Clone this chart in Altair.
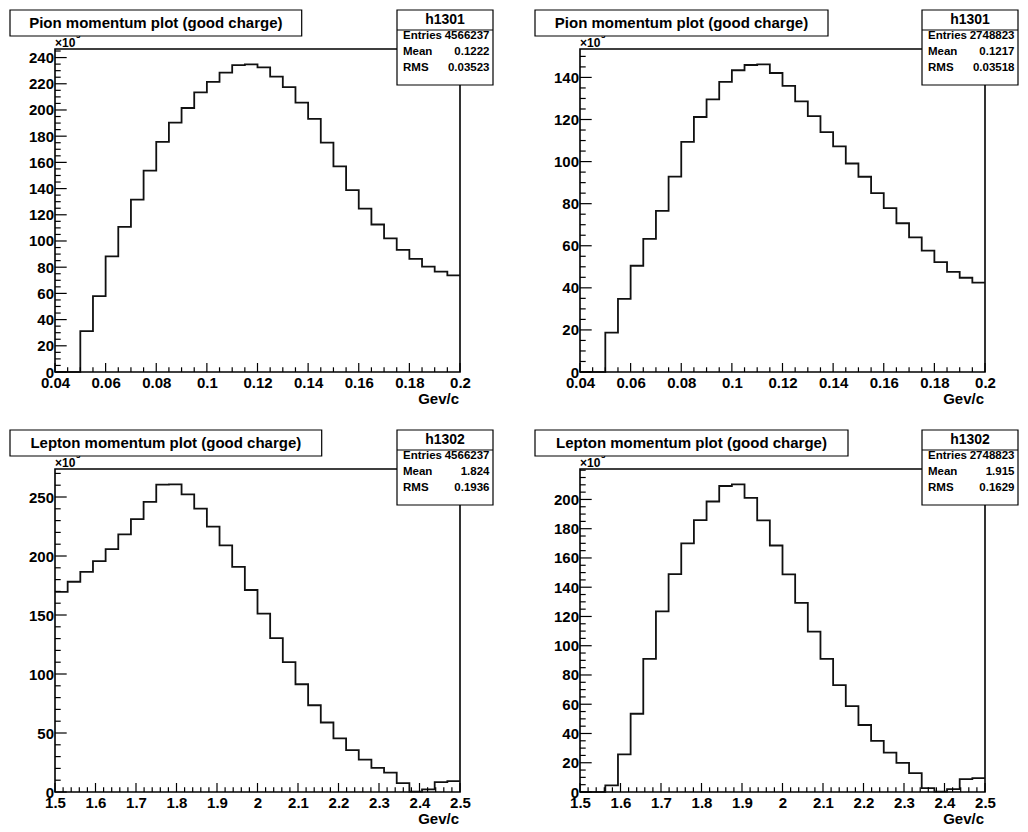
import altair as alt
import pandas as pd

# ---------------- data (values in units of 10^3 entries per bin) ----------------
pion_lo = 0.04
pion_bin = 0.005
pion_all = [0, 0, 31.2, 57.9, 88.2, 110.8, 131.5, 153.7, 175.6, 190.4,
            201.5, 213.4, 221.5, 228.5, 234.3, 234.8, 232.5, 225.5, 217.4, 205.6,
            193.2, 175.1, 156.9, 138.8, 124.7, 112.6, 102.0, 93.2, 86.4, 80.4,
            76.6, 73.8]
pion_sel = [0, 0, 18.7, 34.8, 50.5, 63.3, 76.6, 92.9, 109.4, 121.2,
            129.6, 137.9, 143.4, 145.9, 146.2, 142.1, 136.0, 128.6, 121.6, 114.0,
            107.2, 99.1, 92.8, 85.0, 77.9, 70.7, 64.0, 57.7, 52.2, 47.6,
            44.8, 42.5]

lep_lo = 1.5
lep_bin = 1.0 / 32
lep_all = [169.6, 178.2, 186.6, 195.7, 205.8, 218.4, 231.3, 245.8, 260.5, 260.7,
           252.2, 240.2, 224.9, 209.0, 190.8, 171.2, 151.1, 130.4, 110.1, 91.3,
           73.5, 58.9, 45.5, 35.5, 27.4, 20.4, 16.5, 7.5, 0.4, 2.2,
           8.4, 9.3]
lep_sel = [0, 0, 4.5, 25.7, 53.5, 91.0, 123.5, 149.0, 170.0, 185.9,
           198.6, 209.2, 210.3, 201.1, 185.7, 168.5, 148.8, 129.3, 109.7, 91.0,
           73.1, 58.7, 45.8, 35.0, 26.9, 19.9, 12.9, 2.7, 0.3, 2.0,
           8.8, 9.5]

titles = ["Pion momentum plot (good charge)", "Pion momentum plot (good charge)",
          "Lepton momentum plot (good charge)", "Lepton momentum plot (good charge)"]
hist_names = ["h1301", "h1301", "h1302", "h1302"]
entries = ["4566237", "2748823", "4566237", "2748823"]
means = ["0.1222", "0.1217", "1.824", "1.915"]
rmss = ["0.03523", "0.03518", "0.1936", "0.1629"]
x_title = "Gev/c"
exp_label = "\u00d710"
exp_power = "3"

pion_x_major = [0.04, 0.06, 0.08, 0.1, 0.12, 0.14, 0.16, 0.18, 0.2]
lep_x_major = [1.5, 1.6, 1.7, 1.8, 1.9, 2.0, 2.1, 2.2, 2.3, 2.4, 2.5]
y_major_tl = [0, 20, 40, 60, 80, 100, 120, 140, 160, 180, 200, 220, 240]
y_major_tr = [0, 20, 40, 60, 80, 100, 120, 140]
y_major_bl = [0, 50, 100, 150, 200, 250]
y_major_br = [0, 20, 40, 60, 80, 100, 120, 140, 160, 180, 200]

# ---------------- style / layout ----------------
FONT = "Liberation Sans"
W = 405
H = 323
XMAJ_LEN, XMIN_LEN = 9, 4.7
YMAJ_LEN, YMIN_LEN = 11.7, 5.7
dummy = pd.DataFrame({"d": [0]})


def minor_ticks(start, stop, step, majors):
    out = []
    k = 0
    while True:
        v = round(start + k * step, 6)
        if v > stop + 1e-9:
            break
        if all(abs(v - m) > 1e-9 for m in majors):
            out.append(v)
        k += 1
    return out


def text(t, x, y, size, align="left", baseline="middle"):
    return alt.Chart(dummy).mark_text(
        text=t, font=FONT, fontWeight="bold", fontSize=size, color="black",
        align=align, baseline=baseline
    ).encode(x=alt.value(x), y=alt.value(y))


def box(x1, x2, y1, y2):
    return alt.Chart(dummy).mark_rect(
        fill="white", stroke="black", strokeWidth=1.2
    ).encode(x=alt.value(x1), x2=alt.value(x2), y=alt.value(y1), y2=alt.value(y2))


def panel(lo, bw, vals, xmaj, xstep, ymaj, ystep, title, title_w, hname, ent, mean, rms):
    n = len(vals)
    hi = round(lo + n * bw, 6)
    edges = [lo + i * bw for i in range(n)] + [hi]
    hist_df = pd.DataFrame({"x": edges, "y": list(vals) + [vals[-1]]})
    ymax = max(vals) * 1.05
    xs = alt.Scale(domain=[lo, hi], nice=False, zero=False)
    ys = alt.Scale(domain=[0, ymax], nice=False, zero=False)
    xax = alt.Axis(values=xmaj, format="~g", title=None)
    yax = alt.Axis(values=ymaj, format="d", title=None)

    xmin_t = minor_ticks(lo, hi, xstep, xmaj)
    ymin_t = minor_ticks(0, ymax, ystep, ymaj)

    def xticks(vals_, ln):
        return alt.Chart(pd.DataFrame({"v": vals_})).mark_rule(
            color="black", strokeWidth=1.2
        ).encode(x=alt.X("v:Q", scale=xs, axis=xax),
                 y=alt.value(H), y2=alt.value(H - ln))

    def yticks(vals_, ln):
        return alt.Chart(pd.DataFrame({"v": vals_})).mark_rule(
            color="black", strokeWidth=1.2
        ).encode(y=alt.Y("v:Q", scale=ys, axis=yax),
                 x=alt.value(0), x2=alt.value(ln))

    hist = alt.Chart(hist_df).mark_line(
        interpolate="step-after", color="#111111", strokeWidth=1.8
    ).encode(
        x=alt.X("x:Q", scale=xs, axis=xax),
        y=alt.Y("y:Q", scale=ys, axis=yax),
    )

    sx1, sx2 = 342, 438
    layers = [
        hist,
        xticks(xmaj, XMAJ_LEN), xticks(xmin_t, XMIN_LEN),
        yticks(ymaj, YMAJ_LEN), yticks(ymin_t, YMIN_LEN),
        box(sx1, sx2, -39, 36),
        alt.Chart(dummy).mark_rule(color="black", strokeWidth=1.2).encode(
            x=alt.value(sx1), x2=alt.value(sx2), y=alt.value(-19)),
        text(hname, (sx1 + sx2) / 2, -29, 14, "center"),
        text("Entries", sx1 + 6, -13, 11.5),
        text(ent, sx2 - 3.5, -13, 11.5, "right"),
        text("Mean", sx1 + 6, 2.5, 11.5),
        text(mean, sx2 - 3.5, 2.5, 11.5, "right"),
        text("RMS", sx1 + 6, 18.5, 11.5),
        text(rms, sx2 - 3.5, 18.5, 11.5, "right"),
        text(exp_label, 0, -2, 12, "left", "alphabetic"),
        text(exp_power, 21, -11, 8, "left", "alphabetic"),
        box(-45, -45 + title_w, -39, -13),
        text(title, -45 + title_w / 2, -26, 15, "center"),
        text(x_title, W - 1, H + 27, 15, "right"),
    ]
    return alt.layer(*layers).properties(width=W, height=H)


tl = panel(pion_lo, pion_bin, pion_all, pion_x_major, 0.005, y_major_tl, 5,
           titles[0], 291.7, hist_names[0], entries[0], means[0], rmss[0])
tr = panel(pion_lo, pion_bin, pion_sel, pion_x_major, 0.005, y_major_tr, 5,
           titles[1], 293.0, hist_names[1], entries[1], means[1], rmss[1])
bl = panel(lep_lo, lep_bin, lep_all, lep_x_major, 0.02, y_major_bl, 10,
           titles[2], 311.7, hist_names[2], entries[2], means[2], rmss[2])
br = panel(lep_lo, lep_bin, lep_sel, lep_x_major, 0.02, y_major_br, 5,
           titles[3], 313.0, hist_names[3], entries[3], means[3], rmss[3])

chart = alt.concat(
    tl, tr, bl, br, columns=2, spacing={"row": 97, "column": 120}, bounds="flush"
).properties(
    padding={"left": 0, "top": 0, "right": 0, "bottom": 0},
    autosize=alt.AutoSizeParams(type="pad"),
    background="white"
).configure(
    padding={"left": 0, "top": 0, "right": 0, "bottom": 0}
).configure_view(
    stroke="black", strokeWidth=1.6
).configure_axis(
    labelFont=FONT, labelFontSize=15, labelFontWeight="bold", labelColor="black",
    grid=False, domain=False, ticks=False, tickSize=0,
    labelFlush=False, labelOverlap=False
).configure_axisX(
    labelPadding=3
).configure_axisY(
    labelPadding=1.5
)

chart.save("out.html", embed_options={"renderer": "svg", "actions": False})
